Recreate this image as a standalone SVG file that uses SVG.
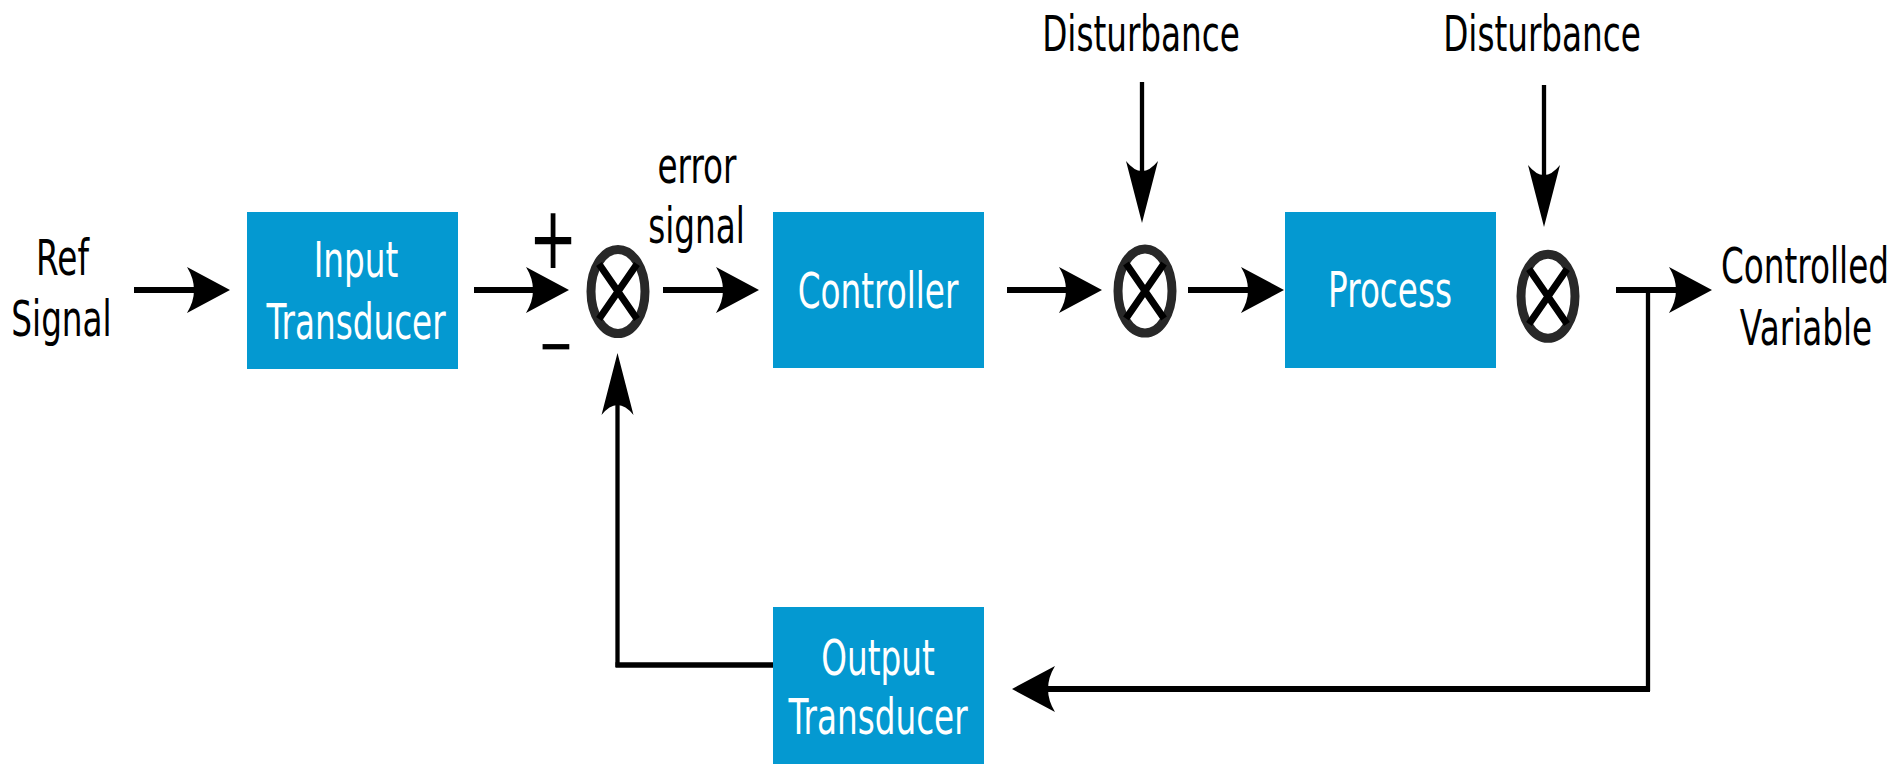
<svg xmlns="http://www.w3.org/2000/svg" width="1898" height="764" viewBox="0 0 1898 764">
<style>
.box{fill:#0499d1}
.lbl{font-family:"DejaVu Sans","Liberation Sans",sans-serif;font-size:49px;text-anchor:middle;fill:#000}
.wl{fill:#fff}
.sum{fill:none;stroke:#282828;stroke-width:9}
.x{stroke:#000;stroke-width:7}
.h{fill:none;stroke:#000;stroke-width:6}
.v{fill:none;stroke:#000;stroke-width:4.3}
</style>
<defs>
<marker id="ah" markerUnits="userSpaceOnUse" orient="auto" refX="0" refY="0" markerWidth="100" markerHeight="100" overflow="visible">
<path d="M30 0 L-13 -23 Q1 0 -13 23 Z" fill="#000"/>
</marker>
<marker id="av" markerUnits="userSpaceOnUse" orient="auto" refX="0" refY="0" markerWidth="100" markerHeight="100" overflow="visible">
<path d="M44 0 L-18 -16 Q2 0 -18 16 Z" fill="#000"/>
</marker>
</defs>
<rect width="1898" height="764" fill="#fff"/>

<g id="connectors">
<path class="h" d="M134 290 H200" marker-end="url(#ah)"/>
<path class="h" d="M474 290 H539" marker-end="url(#ah)"/>
<path class="h" d="M663 290 H729" marker-end="url(#ah)"/>
<path class="h" d="M1007 290 H1072" marker-end="url(#ah)"/>
<path class="h" d="M1188 290 H1254" marker-end="url(#ah)"/>
<path class="h" d="M1616 290 H1682" marker-end="url(#ah)"/>
<path class="v" d="M1142 82 V179" marker-end="url(#av)"/>
<path class="v" d="M1544 85 V183" marker-end="url(#av)"/>
<path class="v" d="M1648 288 V691"/>
<path class="h" d="M1650 689 H1042" marker-end="url(#ah)"/>
<path class="h" style="stroke-width:5.5" d="M773 665 H615.5"/>
<path class="v" d="M617.5 667 V397" marker-end="url(#av)"/>
</g>

<g id="ref-signal">
<text class="lbl" transform="translate(62.5 275) scale(0.667 1)">Ref</text>
<text class="lbl" transform="translate(61.5 336) scale(0.667 1)">Signal</text>
</g>

<g id="input-transducer">
<rect class="box" x="247" y="212" width="211" height="157"/>
<text class="lbl wl" transform="translate(356 277) scale(0.667 1)">Input</text>
<text class="lbl wl" transform="translate(356 339) scale(0.667 1)">Transducer</text>
</g>

<g id="signs">
<text class="lbl" style="font-size:87px" transform="translate(553 268) scale(0.667 1)">+</text>
<text class="lbl" style="font-size:64px" transform="translate(556 367) scale(0.667 1)">−</text>
</g>

<g id="sum1">
<ellipse class="sum" cx="618" cy="291.5" rx="27" ry="42"/>
<path class="x" d="M599 264 L637 319 M637 264 L599 319"/>
</g>

<g id="error-signal">
<text class="lbl" transform="translate(697 183) scale(0.667 1)">error</text>
<text class="lbl" transform="translate(696.5 243) scale(0.667 1)">signal</text>
</g>

<g id="controller">
<rect class="box" x="773" y="212" width="211" height="156"/>
<text class="lbl wl" transform="translate(878 308) scale(0.667 1)">Controller</text>
</g>

<g id="disturbance1">
<text class="lbl" transform="translate(1141 51) scale(0.667 1)">Disturbance</text>
</g>

<g id="sum2">
<ellipse class="sum" cx="1145" cy="291" rx="27" ry="42"/>
<path class="x" d="M1126 263.5 L1164 318.5 M1164 263.5 L1126 318.5"/>
</g>

<g id="process">
<rect class="box" x="1285" y="212" width="211" height="156"/>
<text class="lbl wl" transform="translate(1390 307) scale(0.667 1)">Process</text>
</g>

<g id="disturbance2">
<text class="lbl" transform="translate(1542 51) scale(0.667 1)">Disturbance</text>
</g>

<g id="sum3">
<ellipse class="sum" cx="1548" cy="296.3" rx="27" ry="42"/>
<path class="x" d="M1529 269 L1567 324 M1567 269 L1529 324"/>
</g>

<g id="controlled-variable">
<text class="lbl" transform="translate(1805 283) scale(0.667 1)">Controlled</text>
<text class="lbl" transform="translate(1806 345) scale(0.667 1)">Variable</text>
</g>

<g id="output-transducer">
<rect class="box" x="773" y="607" width="211" height="157"/>
<text class="lbl wl" transform="translate(878 675) scale(0.667 1)">Output</text>
<text class="lbl wl" transform="translate(878 734) scale(0.667 1)">Transducer</text>
</g>
</svg>
